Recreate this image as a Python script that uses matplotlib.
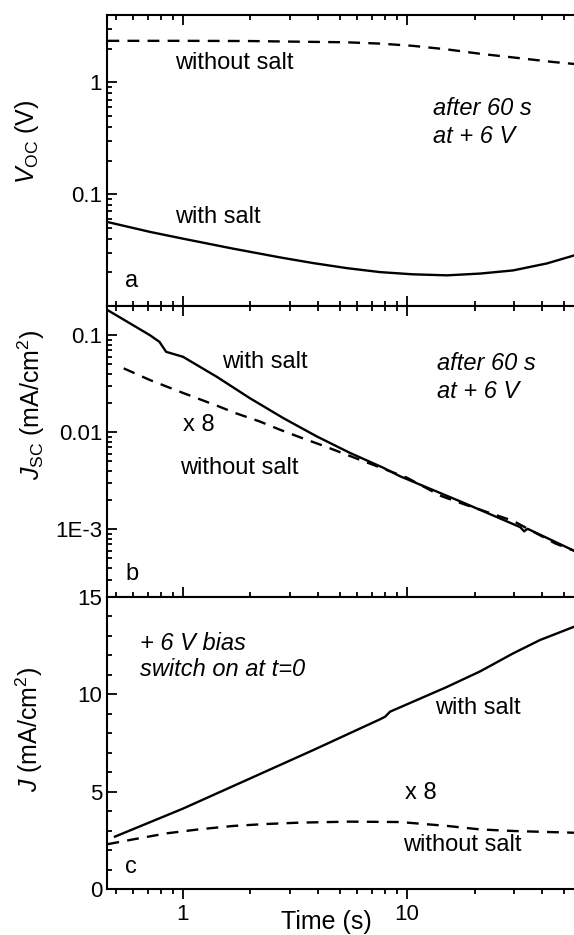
import numpy as np
import matplotlib
matplotlib.use('Agg')
import matplotlib.pyplot as plt
from matplotlib.ticker import NullFormatter, LogLocator, MultipleLocator

plt.rcParams['font.family'] = ['Liberation Sans', 'DejaVu Sans']
plt.rcParams['mathtext.fontset'] = 'custom'
plt.rcParams['mathtext.rm'] = 'Liberation Sans'
plt.rcParams['mathtext.it'] = 'Liberation Sans:italic'

# panel a: open circuit voltage (V)
t_voc_nosalt = [0.46, 1.0, 2.0, 2.71, 5.39, 7.57, 10.6, 15.1, 21.2, 29.7, 44.9, 55.6]
voc_nosalt = [2.35, 2.35, 2.34, 2.32, 2.28, 2.22, 2.12, 1.97, 1.80, 1.67, 1.52, 1.46]
t_voc_salt = [0.458, 0.712, 1.0, 1.67, 2.37, 2.71, 3.81, 5.39, 7.57, 10.6, 15.1, 21.2, 29.7, 42.0, 55.6]
voc_salt = [0.0565, 0.046, 0.040, 0.0326, 0.0286, 0.0272, 0.0242, 0.0218, 0.0201, 0.0192,
            0.0188, 0.0195, 0.0208, 0.0240, 0.0283]

# panel b: short circuit current (mA/cm2)
t_jsc_salt = [0.458, 0.712, 0.785, 0.841, 1.0, 1.414, 1.99, 2.8, 3.95, 5.56, 7.83, 9.29,
              17.8, 32.0, 33.3, 34.5, 55.6]
jsc_salt = [0.183, 0.100, 0.0854, 0.0674, 0.0599, 0.0373, 0.0224, 0.0140, 0.00906, 0.00612,
            0.00430, 0.00352, 0.00188, 0.00105, 0.00095, 0.00101, 0.00060]
t_jsc_nosalt = [0.544, 0.712, 1.0, 1.414, 1.72, 2.2, 2.71, 3.36, 4.3, 5.2, 10.0, 14.2, 17.8,
                29.7, 46.0, 55.6]
jsc_nosalt = [0.0455, 0.0345, 0.0254, 0.0188, 0.0157, 0.0129, 0.0106, 0.00879, 0.00715,
              0.00603, 0.00339, 0.0022, 0.00182, 0.00122, 0.00071, 0.00060]

# panel c: current under +6 V bias (mA/cm2)
t_j_salt = [0.497, 0.712, 1.0, 1.925, 3.82, 7.58, 7.98, 8.4, 15.0, 21.2, 29.7, 39.2, 55.6]
j_salt = [2.69, 3.43, 4.13, 5.6, 7.14, 8.72, 8.85, 9.11, 10.37, 11.18, 12.1, 12.79, 13.47]
t_j_nosalt = [0.46, 0.60, 0.846, 1.19, 1.68, 2.36, 3.33, 5.56, 9.3, 15.1, 21.2, 29.7, 55.6]
j_nosalt = [2.3, 2.55, 2.86, 3.07, 3.24, 3.34, 3.41, 3.46, 3.44, 3.24, 3.06, 2.98, 2.89]

W, H = 574, 935
fig = plt.figure(figsize=(W / 100, H / 100), dpi=100)

left = 107 / W
width = 1 - left
tops = [15, 306, 597]
bots = [306, 597, 889]
axes = []
for tp, bt in zip(tops, bots):
    ax = fig.add_axes([left, 1 - bt / H, width, (bt - tp) / H])
    axes.append(ax)
ax_a, ax_b, ax_c = axes

dash = (0, (5, 3.5))
lw = 1.7
fs_txt = 17
fs_tick = 16

for ax in axes:
    ax.set_xscale('log')
    ax.set_xlim(0.458, 55.6)
    ax.spines['right'].set_visible(False)
    for s in ['left', 'top', 'bottom']:
        ax.spines[s].set_linewidth(1.5)
    ax.tick_params(axis='y', which='both', direction='in', right=False, labelsize=fs_tick, width=1.3)
    ax.tick_params(axis='y', which='major', length=7)
    ax.tick_params(axis='y', which='minor', length=3.5)
    ax.tick_params(axis='x', which='both', width=1.3)
    ax.tick_params(axis='x', which='major', length=7)
    ax.tick_params(axis='x', which='minor', length=3.5)

# panel a
ax_a.plot(t_voc_nosalt, voc_nosalt, color='black', lw=lw, ls=dash)
ax_a.plot(t_voc_salt, voc_salt, color='black', lw=lw)
ax_a.set_yscale('log')
ax_a.set_ylim(0.01, 4)
ax_a.set_yticks([1, 0.1])
ax_a.set_yticklabels(['1', '0.1'])
ax_a.yaxis.set_minor_locator(LogLocator(base=10, subs=np.arange(2, 10)))
ax_a.yaxis.set_minor_formatter(NullFormatter())
ax_a.tick_params(axis='x', which='both', direction='in', top=True, bottom=True, labelbottom=False)
ax_a.text(0.921, 1.50, 'without salt', fontsize=fs_txt, va='center')
ax_a.text(0.921, 0.0626, 'with salt', fontsize=fs_txt, va='center')
ax_a.text(0.551, 0.0167, 'a', fontsize=fs_txt, va='center')
ax_a.text(13.1, 0.589, 'after 60 s', fontsize=fs_txt, style='italic', va='center')
ax_a.text(13.1, 0.326, 'at + 6 V', fontsize=fs_txt, style='italic', va='center')

# panel b
ax_b.plot(t_jsc_nosalt, jsc_nosalt, color='black', lw=lw, ls=dash)
ax_b.plot(t_jsc_salt, jsc_salt, color='black', lw=lw)
ax_b.set_yscale('log')
ax_b.set_ylim(2e-4, 0.2)
ax_b.set_yticks([0.1, 0.01, 0.001])
ax_b.set_yticklabels(['0.1', '0.01', '1E-3'])
ax_b.yaxis.set_minor_locator(LogLocator(base=10, subs=np.arange(2, 10)))
ax_b.yaxis.set_minor_formatter(NullFormatter())
ax_b.tick_params(axis='x', which='both', direction='in', top=True, bottom=True, labelbottom=False)
ax_b.text(1.49, 0.0532, 'with salt', fontsize=fs_txt, va='center')
ax_b.text(1.0, 0.0119, 'x 8', fontsize=fs_txt, va='center')
ax_b.text(0.97, 0.00428, 'without salt', fontsize=fs_txt, va='center')
ax_b.text(0.551, 3.46e-4, 'b', fontsize=fs_txt, va='center')
ax_b.text(13.6, 0.0513, 'after 60 s', fontsize=fs_txt, style='italic', va='center')
ax_b.text(13.6, 0.0262, 'at + 6 V', fontsize=fs_txt, style='italic', va='center')

# panel c
ax_c.plot(t_j_nosalt, j_nosalt, color='black', lw=lw, ls=dash)
ax_c.plot(t_j_salt, j_salt, color='black', lw=lw)
ax_c.set_ylim(0, 15)
ax_c.set_yticks([0, 5, 10, 15])
ax_c.yaxis.set_minor_locator(MultipleLocator(1))
ax_c.tick_params(axis='x', which='both', direction='out', top=False, bottom=True, labelsize=fs_tick)
ax_c.set_xticks([1, 10])
ax_c.set_xticklabels(['1', '10'])
ax_c.xaxis.set_minor_formatter(NullFormatter())
ax_c.text(0.643, 12.62, '+ 6 V bias', fontsize=fs_txt, style='italic', va='center')
ax_c.text(0.643, 11.25, 'switch on at t=0', fontsize=fs_txt, style='italic', va='center')
ax_c.text(13.3, 9.28, 'with salt', fontsize=fs_txt, va='center')
ax_c.text(9.79, 4.95, 'x 8', fontsize=fs_txt, va='center')
ax_c.text(9.6, 2.26, 'without salt', fontsize=fs_txt, va='center')
ax_c.text(0.551, 1.15, 'c', fontsize=fs_txt, va='center')

# axis labels
fig.text(27 / W, 1 - 142 / H, r'$\mathit{V}_{\mathrm{OC}}$ (V)', rotation=90,
         ha='center', va='center', fontsize=18)
fig.text(31 / W, 1 - 405 / H, r'$\mathit{J}_{\mathrm{SC}}$ (mA/cm$^2$)', rotation=90,
         ha='center', va='center', fontsize=18)
fig.text(29 / W, 1 - 729 / H, r'$\mathit{J}$ (mA/cm$^2$)', rotation=90,
         ha='center', va='center', fontsize=18)
fig.text(326 / W, 1 - 922 / H, 'Time (s)', ha='center', va='center', fontsize=18)

fig.savefig('out.png', dpi=100)
